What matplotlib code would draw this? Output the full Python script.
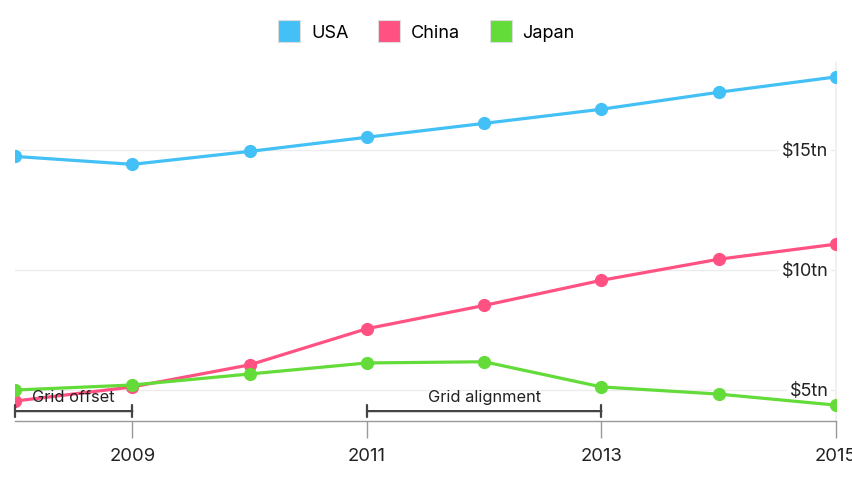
import matplotlib.pyplot as plt
from matplotlib.lines import Line2D
from matplotlib.transforms import blended_transform_factory

plt.rcParams['font.family'] = ['Inter', 'DejaVu Sans']

# datos (billones de USD)
years = [2008, 2009, 2010, 2011, 2012, 2013, 2014, 2015]
usa = [14.75, 14.42, 14.96, 15.55, 16.13, 16.72, 17.43, 18.07]
china = [4.54, 5.13, 6.05, 7.56, 8.53, 9.58, 10.46, 11.09]
japan = [5.00, 5.21, 5.67, 6.13, 6.18, 5.13, 4.83, 4.37]
y_ticks = [5, 10, 15]
x_ticks = [2009, 2011, 2013, 2015]

colores = {'USA': '#43C0F5', 'China': '#FF5283', 'Japan': '#63DB38'}

fig = plt.figure(figsize=(8.52, 4.8), dpi=100)
ax = fig.add_axes([15/852, 59.3/480, 821/852, 357.7/480])

for nombre, serie in [('USA', usa), ('China', china), ('Japan', japan)]:
    ax.plot(years, serie, color=colores[nombre], lw=2.3, marker='o', ms=8.5, zorder=3)

ax.set_xlim(2008, 2015)
ax.set_ylim(3.72, 18.65)

# grilla horizontal
for v in y_ticks:
    ax.axhline(v, color='#ececec', lw=1, zorder=1)
ax.set_yticks([])

# etiquetas del eje y a la derecha, dentro del área
trans = blended_transform_factory(ax.transAxes, ax.transData)
for v in y_ticks:
    ax.annotate(f'${v}tn', xy=(1, v), xycoords=trans, xytext=(-5.5, -0.8),
                textcoords='offset points', ha='right', va='center', fontsize=13,
                color='#222', bbox=dict(boxstyle='square,pad=0.15', fc='white', ec='none'),
                zorder=2)

ax.set_xticks(x_ticks)
ax.set_xticklabels([str(x) for x in x_ticks], fontsize=13.3, color='#222')
ax.tick_params(axis='x', length=12, width=1, color='#999', pad=7.5)

for s in ['top', 'left']:
    ax.spines[s].set_visible(False)
ax.spines['bottom'].set_color('#999')
ax.spines['bottom'].set_linewidth(1)
ax.spines['right'].set_color('#f0f0f0')
ax.spines['right'].set_linewidth(1.5)

# anotaciones de grilla
for x0, x1, texto in [(2008, 2009, 'Grid offset'), (2011, 2013, 'Grid alignment')]:
    ax.annotate('', xy=(x0, 4.12), xytext=(x1, 4.12),
                arrowprops=dict(arrowstyle='|-|,widthA=0.45,widthB=0.45', color='#444',
                                lw=1.6, shrinkA=0, shrinkB=0), zorder=4)
    ax.text((x0 + x1) / 2, 4.70, texto, ha='center', va='center', fontsize=11.8, color='#222', zorder=4)

handles = [Line2D([], [], ls='none', marker='s', ms=16.5, mfc=c, mec='#dddddd', mew=0.8)
           for c in colores.values()]
fig.legend(handles, list(colores.keys()), loc='center', bbox_to_anchor=(426/852, 1 - 33/480),
           ncol=3, frameon=False, fontsize=13, handletextpad=0.55, columnspacing=1.6,
           handlelength=1.3)

plt.savefig('out.png', dpi=100)
